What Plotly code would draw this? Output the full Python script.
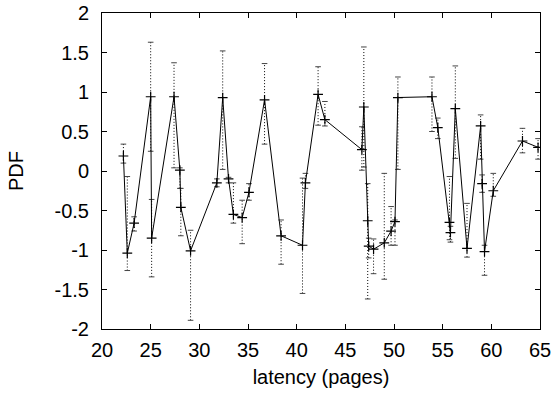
import plotly.graph_objects as go

latency = [22.2, 22.6, 23.3, 25.0, 25.1, 27.4, 28.0, 28.1, 29.1, 31.8,
           32.4, 33.0, 33.5, 34.4, 35.1, 36.7, 38.4, 40.6, 40.9, 42.2,
           42.9, 46.7, 46.9, 47.3, 47.4, 47.9, 49.0, 49.7, 50.1, 50.4,
           53.9, 54.5, 55.7, 55.8, 56.3, 57.5, 58.9, 59.05, 59.3, 60.2,
           63.2, 64.8]
pdf = [0.19, -1.04, -0.66, 0.94, -0.85, 0.94, 0.01, -0.46, -1.01, -0.15,
       0.93, -0.10, -0.55, -0.59, -0.27, 0.90, -0.82, -0.94, -0.15, 0.97,
       0.65, 0.27, 0.81, -0.63, -0.95, -0.99, -0.91, -0.76, -0.64, 0.93,
       0.94, 0.55, -0.65, -0.78, 0.79, -0.98, 0.57, -0.16, -1.02, -0.25,
       0.38, 0.30]
pdf_low = [0.10, -1.26, -0.76, 0.25, -1.34, 0.04, -0.22, -0.82, -1.89, -0.20,
           0.02, -0.15, -0.66, -0.92, -0.37, 0.34, -1.18, -1.55, -0.22, 0.58,
           0.57, 0.01, 0.05, -1.62, -1.10, -1.30, -1.37, -0.94, -0.94, 0.02,
           0.50, 0.41, -0.87, -0.90, 0.16, -1.09, 0.15, -0.27, -1.32, -0.32,
           0.23, 0.15]
pdf_high = [0.34, -0.07, -0.58, 1.63, -0.36, 1.37, 0.04, -0.22, -0.75, -0.10,
            1.52, -0.08, -0.15, -0.37, -0.16, 1.36, -0.62, -0.09, -0.03, 1.32,
            0.88, 0.56, 1.57, -0.16, -0.85, -0.86, -0.03, -0.45, -0.62, 1.19,
            1.19, 0.67, -0.07, -0.70, 1.33, -0.41, 0.71, -0.05, -0.94, -0.03,
            0.54, 0.41]

x_ticks = [20, 25, 30, 35, 40, 45, 50, 55, 60, 65]
y_ticks = [-2, -1.5, -1, -0.5, 0, 0.5, 1, 1.5, 2]
y_tick_text = ["-2", "-1.5", "-1", "-0.5", "0", "0.5", "1", "1.5", "2"]

FONT = "Liberation Sans, Arial, sans-serif"
FS = 20

# error bar segments (dotted)
ex, ey = [], []
for xv, lo, hi in zip(latency, pdf_low, pdf_high):
    ex += [xv, xv, None]
    ey += [lo, hi, None]

fig = go.Figure()
fig.add_trace(go.Scatter(x=ex, y=ey, mode="lines",
                         line=dict(color="black", width=1, dash="1px,2px"),
                         hoverinfo="skip", showlegend=False))
fig.add_trace(go.Scatter(x=latency + latency, y=pdf_low + pdf_high, mode="markers",
                         marker=dict(symbol="line-ew", size=4,
                                     line=dict(color="#444444", width=1)),
                         hoverinfo="skip", showlegend=False))
fig.add_trace(go.Scatter(x=latency, y=pdf, mode="lines+markers",
                         line=dict(color="black", width=1),
                         marker=dict(symbol="cross-thin", size=7,
                                     line=dict(color="black", width=1.2)),
                         showlegend=False))

axis_common = dict(showline=True, linecolor="black", linewidth=1, mirror="ticks",
                   ticks="inside", ticklen=5, tickcolor="black", tickwidth=1,
                   showgrid=False, zeroline=False,
                   tickfont=dict(family=FONT, size=FS, color="black"))

fig.update_xaxes(range=[20, 65], tickvals=x_ticks, ticktext=[str(v) for v in x_ticks],
                 title=dict(text="latency (pages)", font=dict(family=FONT, size=FS, color="black"),
                            standoff=9),
                 ticklabelstandoff=3,
                 **axis_common)
fig.update_yaxes(range=[-2, 2], tickvals=y_ticks, ticktext=y_tick_text,
                 title=dict(text="PDF", font=dict(family=FONT, size=FS, color="black"),
                            standoff=25),
                 ticklabelstandoff=8,
                 **axis_common)

fig.update_layout(width=554, height=397,
                  margin=dict(l=102, r=14, t=13, b=68, autoexpand=False),
                  paper_bgcolor="white", plot_bgcolor="white",
                  font=dict(family=FONT, size=FS, color="black"))

fig.write_html("out.html")
